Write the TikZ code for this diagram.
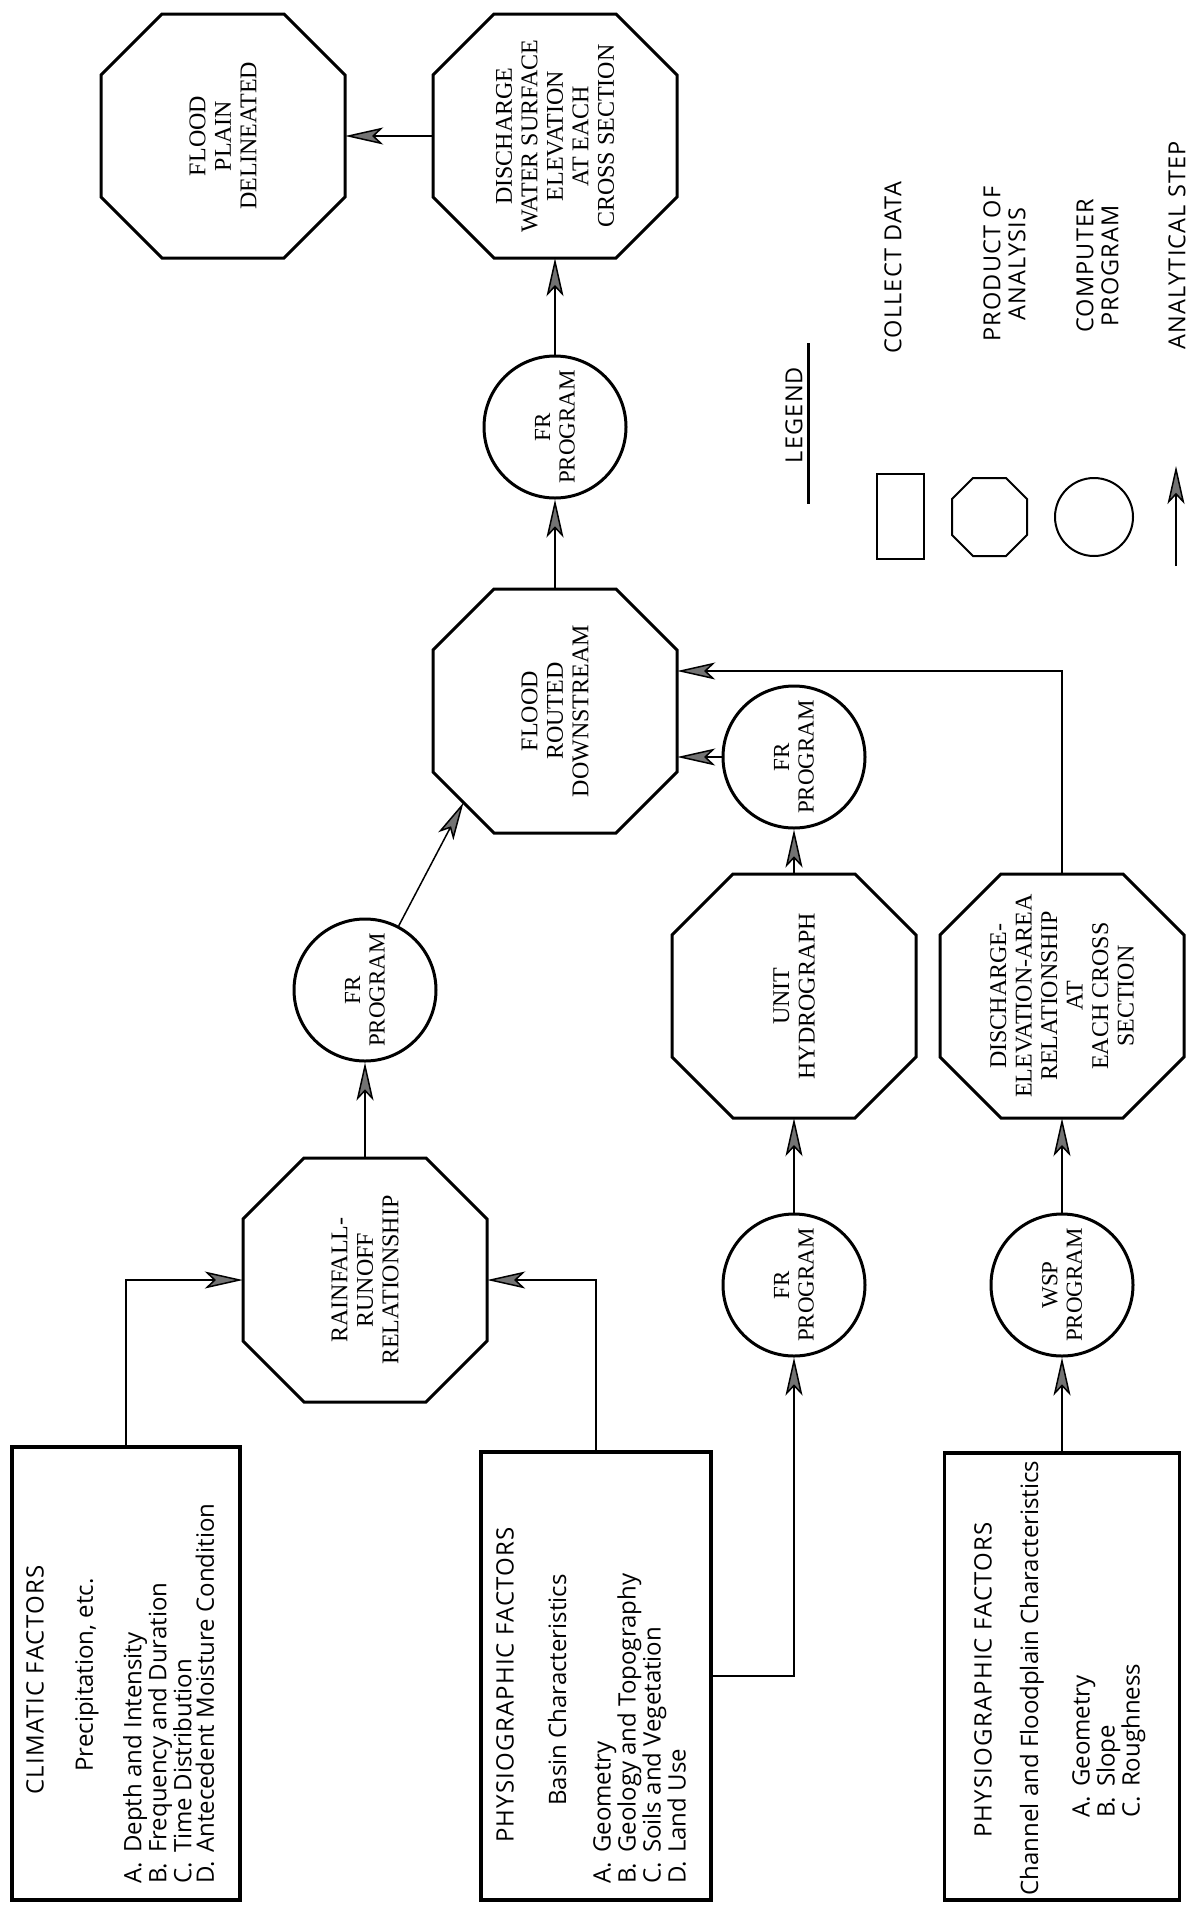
\documentclass[tikz,border=0pt]{standalone}
\usepackage{fontspec}
\newfontfamily\boxfont{Open Sans}
\newfontfamily\capsfont{Open Sans}[LetterSpace=5]
\newfontfamily\octfont{Liberation Serif}
\usetikzlibrary{arrows.meta}
\newcommand\drawocto[5]{% name, half width, half height, cut, line width
  \draw[line width=#5, line join=miter]
    ([shift={(-#2+#4,#3)}]#1.center) -- ([shift={(#2-#4,#3)}]#1.center) --
    ([shift={(#2,#3-#4)}]#1.center) -- ([shift={(#2,-#3+#4)}]#1.center) --
    ([shift={(#2-#4,-#3)}]#1.center) -- ([shift={(-#2+#4,-#3)}]#1.center) --
    ([shift={(-#2,-#3+#4)}]#1.center) -- ([shift={(-#2,#3-#4)}]#1.center) -- cycle;}
\begin{document}
\begin{tikzpicture}[x=1pt,y=1pt,
  oct/.style={rectangle, minimum width=244pt, minimum height=244pt,
    rotate=90, align=center, inner sep=0pt,
    font=\octfont\fontsize{24}{25.5}\selectfont},
  prog/.style={circle, draw, line width=3pt, minimum size=142pt, rotate=90,
    align=center, inner sep=0pt, font=\octfont\fontsize{23}{24.5}\selectfont},
  databox/.style={rectangle, draw, line width=3.5pt, rotate=90, inner sep=0pt},
  titletxt/.style={rotate=90, inner sep=0pt, font=\capsfont\fontsize{24}{22.5}\selectfont},
  subtxt/.style={rotate=90, inner sep=0pt, font=\boxfont\fontsize{24}{22.5}\selectfont},
  listtxt/.style={rotate=90, inner sep=0pt, anchor=north west, align=left,
    font=\boxfont\fontsize{24}{22.5}\selectfont},
  legtxt/.style={rotate=90, inner sep=0pt, align=center,
    font=\capsfont\fontsize{23.5}{25}\selectfont},
  arr/.style={line width=1.5pt,
    -{Stealth[length=38pt,width=17pt,inset=9pt,fill=black!55]}},
]
\useasboundingbox[fill=white] (0,0) rectangle (1191,-1914);

% ---------- data boxes ----------
\node[databox, minimum width=453pt, minimum height=228pt] (box1) at (126,-1673.5) {};
\node[titletxt] (b1t) at (35,-1680) {CLIMATIC FACTORS};
\node[subtxt] (b1s) at (87,-1675) {Precipitation, etc.};
\node[listtxt] (b1l) at (123,-1884) {%
  \makebox[31pt][l]{A.}Depth and Intensity\\
  \makebox[31pt][l]{B.}Frequency and Duration\\
  \makebox[31pt][l]{C.}Time Distribution\\
  \makebox[31pt][l]{D.}Antecedent Moisture Condition};

\node[databox, minimum width=448pt, minimum height=230pt] (box2) at (596,-1676) {};
\node[titletxt] (b2t) at (505,-1685) {PHYSIOGRAPHIC FACTORS};
\node[subtxt] (b2s) at (557,-1690) {Basin Characteristics};
\node[listtxt] (b2l) at (593,-1884) {%
  \makebox[31pt][l]{A.}Geometry\\
  \makebox[31pt][l]{B.}Geology and Topography\\
  \makebox[31pt][l]{C.}Soils and Vegetation\\
  \makebox[31pt][l]{D.}Land Use};

\node[databox, minimum width=447pt, minimum height=235pt] (box3) at (1062,-1676.5) {};
\node[titletxt] (b3t) at (983,-1680) {PHYSIOGRAPHIC FACTORS};
\node[subtxt] (b3s) at (1032,-1678) {Channel and Floodplain Characteristics};
\node[listtxt] (b3l) at (1072,-1818) {%
  \makebox[31pt][l]{A.}Geometry\\
  \makebox[31pt][l]{B.}Slope\\
  \makebox[31pt][l]{C.}Roughness};

% ---------- products of analysis ----------
\node[oct] (rain) at (365,-1280) {RAINFALL-\\RUNOFF\\RELATIONSHIP};
\node[oct] (flood) at (555,-711) {FLOOD\\ROUTED\\DOWNSTREAM};
\node[oct] (uh) at (794,-996) {UNIT\\HYDROGRAPH};
\node[oct] (dea) at (1062,-996) {DISCHARGE-\\ELEVATION-AREA\\RELATIONSHIP\\AT\\EACH CROSS\\SECTION};
\node[oct] (dws) at (555,-136) {DISCHARGE\\WATER SURFACE\\ELEVATION\\AT EACH\\CROSS SECTION};
\node[oct] (fp) at (223,-136) {FLOOD\\PLAIN\\DELINEATED};
\foreach \n in {rain,flood,uh,dea,dws,fp} {\drawocto{\n}{122}{122}{61}{3pt}}

% ---------- computer programs ----------
\node[prog] (c1) at (365,-990) {FR\\PROGRAM};
\node[prog] (ctop) at (555,-427) {FR\\PROGRAM};
\node[prog] (c3) at (794,-757) {FR\\PROGRAM};
\node[prog] (c2) at (794,-1285) {FR\\PROGRAM};
\node[prog] (wsp) at (1062,-1285) {WSP\\PROGRAM};

% ---------- analytical steps ----------
\draw[arr] (box1) |- (rain);
\draw[arr] (box2) |- (rain);
\draw[arr] (rain) -- (c1);
\coordinate (fdl) at ([shift={(-91.5,-91.5)}]flood.center);
\draw[arr] (c1) -- (fdl);
\draw[arr] (flood) -- (ctop);
\draw[arr] (ctop) -- (dws);
\draw[arr] (dws) -- (fp);
\draw[arr] (box2) -| (c2);
\draw[arr] (c2) -- (uh);
\draw[arr] (uh) -- (c3);
\draw[arr] (c3) -- (c3 -| flood.south);
\coordinate (j1) at (1062,-671);
\draw[arr] (dea) -- (j1) -- (j1 -| flood.south);
\draw[arr] (box3) -- (wsp);
\draw[arr] (wsp) -- (dea);

% ---------- legend ----------
\node[legtxt] (leg) at (794,-415) {LEGEND};
\coordinate (u1) at (808,-343);
\coordinate (u2) at (808,-504);
\draw[line width=3pt] (u1) -- (u2);
\node[draw, line width=2pt, minimum width=47pt, minimum height=85pt, inner sep=0pt] (lrect) at (900.5,-516.5) {};
\node[minimum width=75pt, minimum height=78pt, inner sep=0pt] (loct) at (989.5,-517) {};
\drawocto{loct}{37.5}{39}{21}{2pt}
\node[circle, draw, line width=2pt, minimum size=78pt, inner sep=0pt] (lcirc) at (1094,-517) {};
\coordinate (la1) at (1176,-566);
\coordinate (la2) at (1176,-466);
\draw[arr] (la1) -- (la2);
\node[legtxt] (l1) at (893,-268) {COLLECT DATA};
\node[legtxt] (l2) at (1004.5,-264) {PRODUCT OF\\ANALYSIS};
\node[legtxt] (l3) at (1097.5,-266) {COMPUTER\\PROGRAM};
\node[legtxt] (l4) at (1177,-245) {ANALYTICAL STEP};
\end{tikzpicture}
\end{document}
